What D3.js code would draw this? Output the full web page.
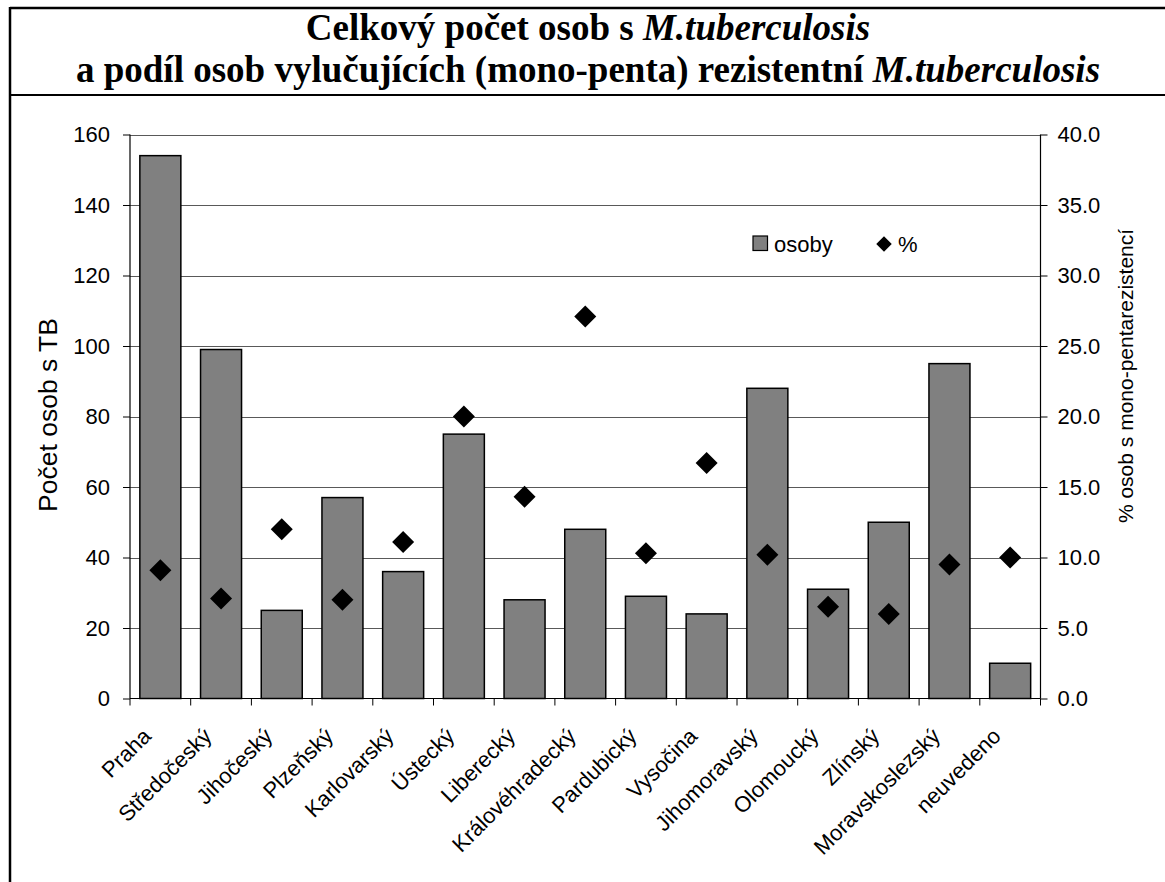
<!DOCTYPE html>
<html><head><meta charset="utf-8">
<script src="https://cdn.jsdelivr.net/npm/d3@7"></script>
<style>body{margin:0;background:#fff}svg{display:block}</style>
</head><body>
<svg id="c" width="1165" height="882"></svg>
<script>
const categories = ["Praha","Středočeský","Jihočeský","Plzeňský","Karlovarský","Ústecký","Liberecký","Královéhradecký","Pardubický","Vysočina","Jihomoravský","Olomoucký","Zlínský","Moravskoslezský","neuvedeno"];
const osoby = [154,99,25,57,36,75,28,48,29,24,88,31,50,95,10];
const procenta = [9.1,7.1,12.0,7.0,11.1,20.0,14.3,27.1,10.3,16.7,10.2,6.5,6.0,9.5,10.0];
const leftTicks = [0,20,40,60,80,100,120,140,160];
const rightTicks = [0,5,10,15,20,25,30,35,40];

const svg = d3.select("#c");
const L = 130, R = 1040.5, T = 134.5, B = 698.5;
const sans = "'Liberation Sans', Arial, sans-serif";

// frame
svg.append("line").attr("x1",10).attr("x2",1165).attr("y1",8).attr("y2",8).attr("stroke","#000").attr("stroke-width",2.5);
svg.append("line").attr("x1",10).attr("x2",1165).attr("y1",95).attr("y2",95).attr("stroke","#000").attr("stroke-width",2);
svg.append("line").attr("x1",10).attr("x2",10).attr("y1",7).attr("y2",882).attr("stroke","#000").attr("stroke-width",2.5);

// title
const title = svg.append("text").attr("text-anchor","middle").attr("font-family","'Liberation Serif','Times New Roman',serif").attr("font-weight","bold").attr("font-size",37);
const t1 = title.append("tspan").attr("x",588).attr("y",40);
t1.append("tspan").text("Celkový počet osob s ");
t1.append("tspan").attr("font-style","italic").text("M.tuberculosis");
const t2 = title.append("tspan").attr("x",588).attr("y",82);
t2.append("tspan").text("a podíl osob vylučujících (mono-penta) rezistentní ");
t2.append("tspan").attr("font-style","italic").text("M.tuberculosis");

const x = d3.scaleBand().domain(categories).range([L,R]).paddingInner(0).paddingOuter(0);
const y = d3.scaleLinear().domain([0,160]).range([B,T]);
const y2 = d3.scaleLinear().domain([0,40]).range([B,T]);

// grid
svg.append("g").selectAll("line").data(leftTicks.slice(1)).join("line")
  .attr("x1",L).attr("x2",R).attr("y1",d=>Math.round(y(d))+0.5).attr("y2",d=>Math.round(y(d))+0.5)
  .attr("stroke","#595959").attr("stroke-width",1);

// bars
const bw = 41;
svg.append("g").selectAll("rect").data(osoby).join("rect")
  .attr("x",(d,i)=>x(categories[i])+(x.bandwidth()-bw)/2)
  .attr("y",d=>y(d)).attr("width",bw).attr("height",d=>B-y(d))
  .attr("fill","#808080").attr("stroke","#000").attr("stroke-width",1.5);

// axes
const yAxis = d3.axisLeft(y).tickValues(leftTicks).tickSize(7).tickPadding(13);
const ga = svg.append("g").attr("transform",`translate(${L},0)`).call(yAxis);
const yAxis2 = d3.axisRight(y2).tickValues(rightTicks).tickSize(7).tickPadding(10).tickFormat(d3.format(".1f"));
const gb = svg.append("g").attr("transform",`translate(${R},0)`).call(yAxis2);
const xAxis = d3.axisBottom(x).tickSize(0).tickFormat("");
const gx = svg.append("g").attr("transform",`translate(0,${B})`).call(xAxis);
// category boundary ticks
svg.append("g").selectAll("line").data(d3.range(categories.length+1)).join("line")
  .attr("x1",i=>L+i*x.bandwidth()).attr("x2",i=>L+i*x.bandwidth())
  .attr("y1",B).attr("y2",B+7).attr("stroke","#000");
[ga,gb,gx].forEach(g=>{
  g.attr("font-size",null).attr("font-family",null);
  g.selectAll("path.domain").attr("stroke","#000").attr("stroke-width",1.2);
  g.selectAll(".tick line").attr("stroke","#000");
  g.selectAll("text").style("font-family",sans).style("font-size","22px").attr("fill","#000");
});
ga.select("path.domain").attr("d",`M0,${T}V${B}`);
gb.select("path.domain").attr("d",`M0,${T}V${B}`);
gx.select("path.domain").attr("d",`M${L},0H${R}`);

// x labels
svg.append("g").selectAll("text").data(categories).join("text")
  .attr("transform",d=>`translate(${x(d)+x.bandwidth()/2-8},${B+39}) rotate(-45)`)
  .attr("text-anchor","end")
  .style("font-family",sans).style("font-size","22px").text(d=>d);

// diamonds
svg.append("g").selectAll("path").data(procenta).join("path")
  .attr("transform",(d,i)=>`translate(${x(categories[i])+x.bandwidth()/2},${y2(d)}) rotate(45)`)
  .attr("d",d3.symbol().type(d3.symbolSquare).size(242))
  .attr("fill","#000");

// axis titles
svg.append("text").attr("transform","translate(48,415) rotate(-90)").attr("text-anchor","middle").attr("dy","0.35em")
  .style("font-family",sans).style("font-size","26.5px").text("Počet osob s TB");
svg.append("text").attr("transform","translate(1126,376) rotate(-90)").attr("text-anchor","middle").attr("dy","0.35em")
  .style("font-family",sans).style("font-size","21px").text("% osob s mono-pentarezistencí");

// legend
const lg = svg.append("g");
lg.append("rect").attr("x",753).attr("y",236).attr("width",14.5).attr("height",14.5).attr("fill","#808080").attr("stroke","#000").attr("stroke-width",1.2);
lg.append("text").attr("x",774).attr("y",244).attr("dy","0.35em").style("font-family",sans).style("font-size","22px").text("osoby");
lg.append("path").attr("transform","translate(884,244) rotate(45)").attr("d",d3.symbol().type(d3.symbolSquare).size(121)).attr("fill","#000");
lg.append("text").attr("x",898).attr("y",244).attr("dy","0.35em").style("font-family",sans).style("font-size","22px").text("%");
</script>
</body></html>
